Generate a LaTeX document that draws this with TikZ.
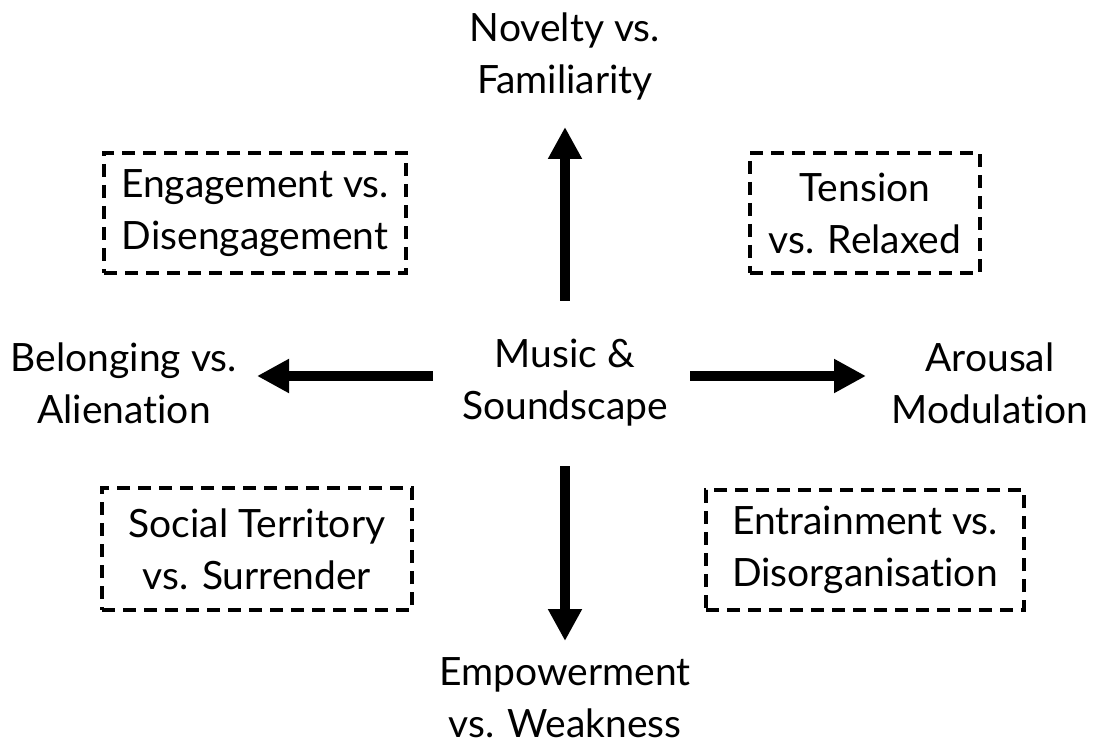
\documentclass[tikz,border=0pt]{standalone}
\usepackage{fontspec}
\setmainfont{Lato}[Ligatures={NoCommon}]
\usetikzlibrary{arrows.meta}
\begin{document}
\begin{tikzpicture}[x=1pt,y=-1pt,
  lbl/.style={align=center,inner sep=0pt,font=\fontsize{39}{52}\selectfont},
  dbox/.style={lbl,draw,line width=3.2pt,dash pattern=on 13pt off 8pt},
  bigarrow/.style={line width=10pt,-{Triangle[width=32pt,length=32pt]}}]
\useasboundingbox (0,0) rectangle (1096,746);
\node[lbl] (music) at (565,383) {Music \&\\Soundscape};
\node[lbl] (novelty) at (565,56) {Novelty vs.\\Familiarity};
\node[lbl] (empower) at (565,698) {Empowerment\\vs. Weakness};
\node[lbl] (belong) at (124,383) {Belonging vs.\\Alienation};
\node[lbl] (arousal) at (990,383) {Arousal\\Modulation};
\node[dbox,minimum width=302pt,minimum height=120pt] (engage) at (255,213) {Engagement vs.\\Disengagement};
\node[dbox,minimum width=230pt,minimum height=120pt] (tension) at (865,213) {Tension\\vs. Relaxed};
\node[dbox,minimum width=310pt,minimum height=122pt] (social) at (257,549) {Social Territory\\vs. Surrender};
\node[dbox,minimum width=318pt,minimum height=120pt] (entrain) at (865,550) {Entrainment vs.\\Disorganisation};
\coordinate (us) at (565,301); \coordinate (ue) at (565,127);
\coordinate (ds) at (565,466); \coordinate (de) at (565,641);
\coordinate (ls) at (433,376); \coordinate (le) at (257,376);
\coordinate (rs) at (690,376); \coordinate (re) at (866,376);
\draw[bigarrow] (us) -- (ue);
\draw[bigarrow] (ds) -- (de);
\draw[bigarrow] (ls) -- (le);
\draw[bigarrow] (rs) -- (re);
\end{tikzpicture}
\end{document}
